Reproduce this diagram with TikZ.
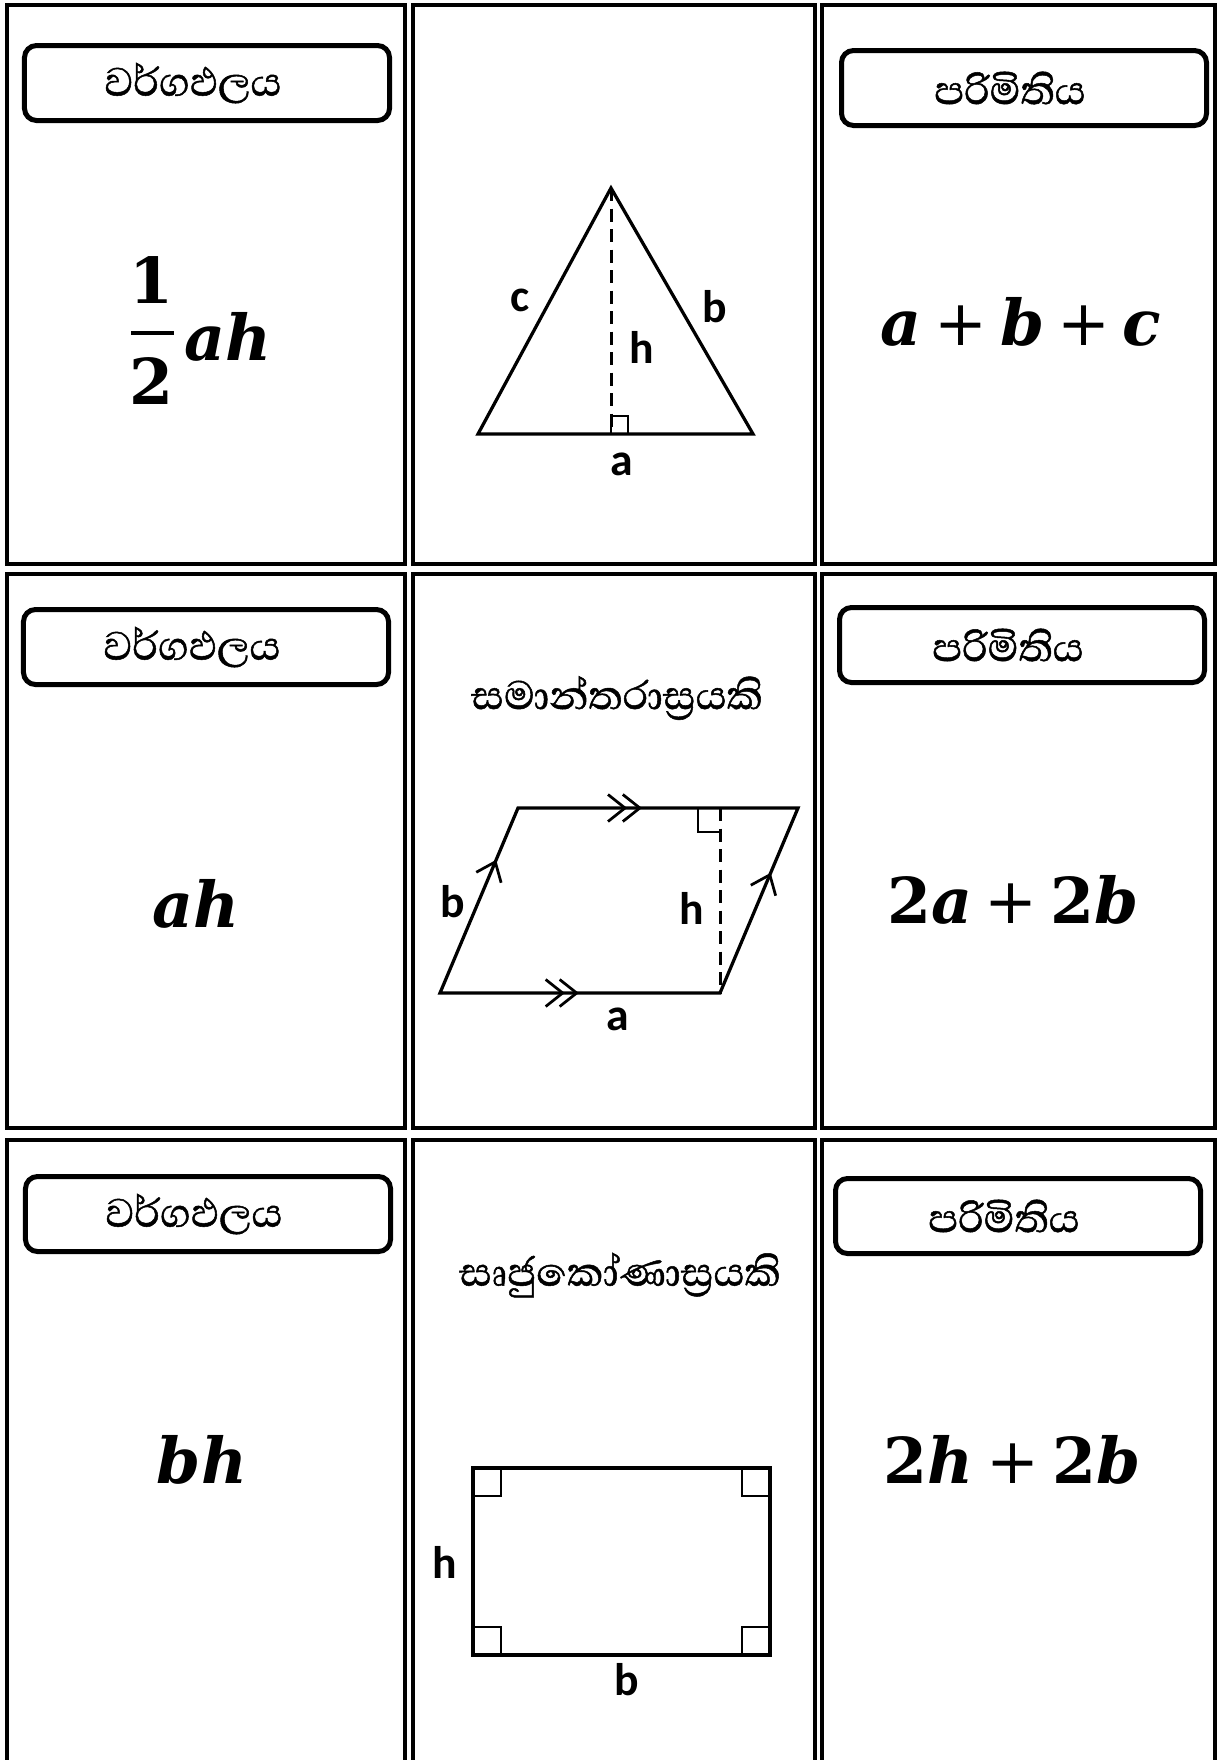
\documentclass[tikz,border=0pt]{standalone}
\usepackage{fontspec}
\setmainfont{Carlito}
\newfontfamily\sinhalafont[Script=Sinhala,FakeBold=1]{Abhaya Libre}
\newfontfamily\formulafont{DejaVu Serif}
\usetikzlibrary{arrows.meta,decorations.markings,calc}
\newcommand{\plusop}{\hspace{0.2em}{\mdseries\upshape+}\hspace{0.2em}}
\tikzset{
  cell/.style={draw,line width=0.75mm},
  titlebox/.style={draw,line width=1mm,rounded corners=2.4mm,minimum width=73mm,
    minimum height=15mm,inner sep=0pt},
  titletext/.style={font=\sinhalafont\fontsize{29}{33}\selectfont,inner sep=0pt},
  shapename/.style={font=\sinhalafont\fontsize{29}{33}\selectfont,inner sep=0pt},
  formula/.style={font=\formulafont\bfseries\itshape\fontsize{36}{42}\selectfont,inner sep=0pt},
  lbl/.style={font=\bfseries\fontsize{26}{30}\selectfont,inner sep=0pt},
  figline/.style={line width=0.65mm,line join=miter},
  altitude/.style={line width=0.6mm,dash pattern=on 2.6mm off 1.5mm},
  rightangle/.style={line width=0.55mm},
  fracbar/.style={line width=0.8mm},
  barb/.tip={Straight Barb[length=3.4mm,width=5.4mm]},
  onemark/.style={line width=0.55mm,postaction={decorate},
    decoration={markings,mark=at position #1 with {\arrow{barb}}}},
  dblmark/.style 2 args={line width=0.55mm,postaction={decorate},
    decoration={markings,mark=at position #1 with {\arrow{barb}},
      mark=at position #2 with {\arrow{barb}}}}
}
\begin{document}
\begin{tikzpicture}[x=0.2mm,y=-0.2mm]
  \useasboundingbox (0,0) rectangle (1217,1760);
  \clip (0,0) rectangle (1217,1760);
  % card frames
  \foreach \xa/\xb in {7/405,413/815,822/1215}
    \foreach \ya/\yb in {5/564,574/1128,1140/1800}
      \draw[cell] (\xa,\ya) rectangle (\xb,\yb);
  % headings
  \foreach \n/\x/\y/\t in {
    ar1/207/83/වර්ගඵලය, pe1/1024/88/පරිමිතිය,
    ar2/206/647/වර්ගඵලය, pe2/1022/645/පරිමිතිය,
    ar3/208/1214/වර්ගඵලය, pe3/1018/1216/පරිමිතිය}{
      \node[titlebox] (box\n) at (\x,\y) {};
      \node[titletext] (txt\n) at ($(box\n.center)+(-14,0)$) {\t};
  }

  % triangle
  \coordinate (tA) at (611,188);
  \coordinate (tL) at (478,434);
  \coordinate (tR) at (753,434);
  \coordinate (tF) at (611,434);
  \draw[figline] (tA) -- (tL) -- (tR) -- cycle;
  \draw[altitude] (tA) -- (tF);
  \draw[rightangle] (tF) -- ++(0,-18) -- ++(17,0) -- ++(0,18);
  \node[lbl] (tc) at (520,300) {c};
  \node[lbl] (tb) at (715,307) {b};
  \node[lbl] (th) at (642,347) {h};
  \node[lbl] (ta) at (622,464) {a};

  % parallelogram
  \node[shapename] (namepar) at (617,698) {සමාන්තරාස්^^^^200dරයකි};
  \coordinate (pA) at (440,993);
  \coordinate (pB) at (720,993);
  \coordinate (pC) at (798,808);
  \coordinate (pD) at (518,808);
  \coordinate (pH) at (720,808);
  \draw[figline] (pA) -- (pB) -- (pC) -- (pD) -- cycle;
  \path[dblmark={0.446}{0.496}] (pA) -- (pB);
  \path[dblmark={0.39}{0.443}] (pD) -- (pC);
  \path[onemark=0.72] (pA) -- (pD);
  \path[onemark=0.65] (pB) -- (pC);
  \draw[altitude] (pH) -- (pB);
  \draw[rightangle] (pH) ++(-22,0) -- ++(0,24) -- ++(22,0);
  \node[lbl] (pb) at (453,902) {b};
  \node[lbl] (ph) at (692,908) {h};
  \node[lbl] (pa) at (618,1019) {a};

  % rectangle
  \node[shapename] (namerect) at (620,1275) {සෘජුකෝණාස්^^^^200dරයකි};
  \coordinate (rTL) at (473,1468);
  \coordinate (rTR) at (770,1468);
  \coordinate (rBL) at (473,1655);
  \coordinate (rBR) at (770,1655);
  \draw[figline] (rTL) rectangle (rBR);
  \draw[rightangle] (rTL) rectangle ++(28,28);
  \draw[rightangle] (rTR) rectangle ++(-28,28);
  \draw[rightangle] (rBL) rectangle ++(28,-28);
  \draw[rightangle] (rBR) rectangle ++(-28,-28);
  \node[lbl] (rh) at (445,1562) {h};
  \node[lbl] (rb) at (627,1680) {b};

  % formulas
  \node[formula] (half1) at (152,280) {\upshape 1};
  \node[formula] (half2) at (152,381) {\upshape 2};
  \coordinate (barl) at (131,333);
  \coordinate (barr) at (174,333);
  \draw[fracbar] (barl) -- (barr);
  \node[formula] (area1) at (228,337) {ah};
  \node[formula] (peri1) at (1021,322) {a\plusop b\plusop c};
  \node[formula] (area2) at (196,904) {ah};
  \node[formula] (peri2) at (1013,900) {{\upshape 2}a\plusop{\upshape 2}b};
  \node[formula] (area3) at (202,1460) {bh};
  \node[formula] (peri3) at (1012,1460) {{\upshape 2}h\plusop{\upshape 2}b};
\end{tikzpicture}
\end{document}
